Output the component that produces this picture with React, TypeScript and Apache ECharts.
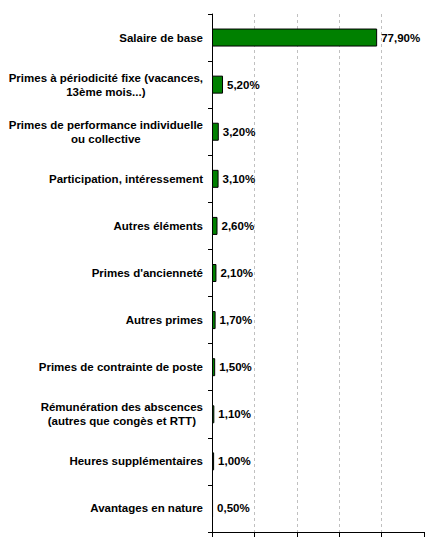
import React, { useEffect, useRef } from "react";
import * as echarts from "echarts";

const categories = [
  "Salaire de base",
  "Primes à périodicité fixe (vacances,\n13ème mois...)",
  "Primes de performance individuelle\nou collective",
  "Participation, intéressement",
  "Autres éléments",
  "Primes d'ancienneté",
  "Autres primes",
  "Primes de contrainte de poste",
  "Rémunération des abscences\n(autres que congès et RTT)",
  "Heures supplémentaires",
  "Avantages en nature",
];
const values = [77.9, 5.2, 3.2, 3.1, 2.6, 2.1, 1.7, 1.5, 1.1, 1.0, 0.5];

const FONT = "'Liberation Sans', Arial, sans-serif";

export default function App() {
  const ref = useRef<HTMLDivElement>(null);
  useEffect(() => {
    if (!ref.current) return;
    const chart = echarts.init(ref.current, null, { renderer: "svg" });
    chart.setOption({
      animation: false,
      backgroundColor: "#ffffff",
      grid: { left: 212, right: 2, top: 14, bottom: 16, containLabel: false },
      xAxis: {
        type: "value",
        min: 0,
        max: 100,
        interval: 20,
        axisLabel: { show: false },
        axisLine: { show: true, lineStyle: { color: "#000", width: 1 } },
        axisTick: { show: true, length: 5, lineStyle: { color: "#000" } },
        splitLine: {
          show: true,
          lineStyle: {
            type: [3, 3],
            color: ["#c0c0c0", "#c0c0c0", "#c0c0c0", "#c0c0c0", "#c0c0c0", "rgba(0,0,0,0)"],
          },
        },
      },
      yAxis: {
        type: "category",
        data: categories,
        inverse: true,
        axisLine: { show: true, lineStyle: { color: "#000", width: 1 } },
        axisTick: { show: true, length: 4, lineStyle: { color: "#000" } },
        axisLabel: {
          margin: 9,
          align: "right",
          formatter: (v: string) =>
            v
              .split("\n")
              .map((l) => "{c|" + l + "}")
              .join("\n"),
          rich: {
            c: {
              align: "center",
              fontFamily: FONT,
              fontWeight: "bold",
              fontSize: 11.5,
              lineHeight: 14,
              color: "#000",
            },
          },
        },
      },
      series: [
        {
          type: "bar",
          data: values,
          barWidth: 18,
          itemStyle: { color: "#008000", borderColor: "#000", borderWidth: 1 },
          label: {
            show: true,
            position: "right",
            distance: 4,
            fontFamily: FONT,
            fontWeight: "bold",
            fontSize: 11.5,
            color: "#000",
            formatter: (p: any) => p.value.toFixed(2).replace(".", ",") + "%",
          },
        },
      ],
    });
    return () => chart.dispose();
  }, []);
  return (
    <div
      ref={ref}
      style={{ position: "fixed", left: 0, top: 0, width: 426, height: 548 }}
    />
  );
}
